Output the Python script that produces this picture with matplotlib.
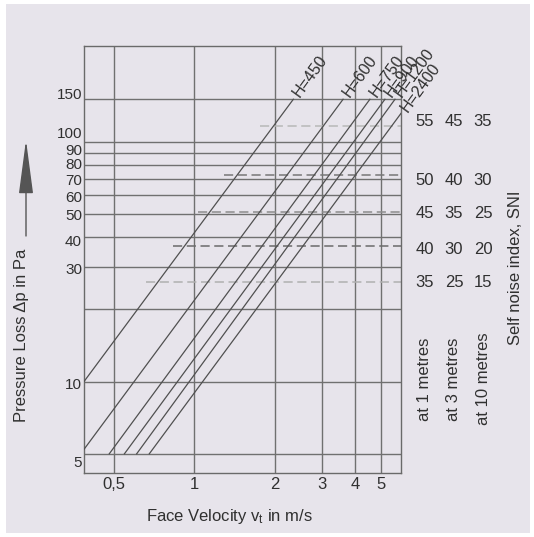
import matplotlib
matplotlib.use("Agg")
import matplotlib.pyplot as plt
from matplotlib.patches import Rectangle
from matplotlib.transforms import ScaledTranslation

plt.rcParams['font.family'] = ['Liberation Sans', 'DejaVu Sans']

# curves: straight lines in log-log, start and end points
h_labels = ['H=450', 'H=600', 'H=750', 'H=900', 'H=1200', 'H=2400']
v_start = [0.386, 0.386, 0.48, 0.547, 0.608, 0.678]
dp_start = [10, 5.22, 5, 5, 5, 5]
v_end = [2.35, 3.61, 4.55, 5.18, 5.65, 5.95]
dp_end = [150, 150, 150, 150, 150, 131]

# self noise index levels (dashed lines)
sni_dp = [116, 72.3, 51, 36.8, 25.9]
sni_v_start = [1.76, 1.29, 1.03, 0.83, 0.66]
sni_1m = [55, 50, 45, 40, 35]
sni_3m = [45, 40, 35, 30, 25]
sni_10m = [35, 30, 25, 20, 15]
sni_text_dp = [121.6, 68.7, 49.9, 35.6, 25.8]

x_ticks = [0.5, 1, 2, 3, 4, 5]
x_ticklabels = ['0,5', '1', '2', '3', '4', '5']
y_grid = [5, 10, 20, 30, 40, 50, 60, 70, 80, 90, 100, 150]
y_ticks = [5, 10, 30, 40, 50, 60, 70, 80, 90, 100, 150]
y_ticklabels = ['5', '10', '30', '40', '50', '60', '70', '80', '90', '100', '150']
y_label_shift = [9, 3.5, 3, 4.5, 2.5, 3, 2.5, 0.5, -2, -7.5, -4.2]  # px down

bg = '#e7e4eb'
txt = '#303030'
grid_c = '#707070'
fs = 12

fig = plt.figure(figsize=(5.34, 5.37), dpi=100)
fig.patch.set_facecolor('white')
fig.add_artist(Rectangle((6 / 534, 4 / 537), 524 / 534, 529 / 537,
                         transform=fig.transFigure, facecolor=bg, edgecolor='none', zorder=-10))

ax = fig.add_axes([84 / 534, 64 / 537, 317 / 534, 427 / 537])
ax.set_facecolor(bg)
ax.set_xscale('log')
ax.set_yscale('log')
ax.set_xlim(0.386, 5.95)
ax.set_ylim(4.16, 250)

for x in x_ticks:
    ax.axvline(x, color=grid_c, lw=1.0, zorder=1)
for y in y_grid:
    ax.axhline(y, color=grid_c, lw=1.0, zorder=1)

# dashed SNI lines
dash_colors = ['#b8b8b8', '#777777', '#8c8c8c', '#6a6a6a', '#b0b0b0']
for d, vs, c in zip(sni_dp, sni_v_start, dash_colors):
    ax.plot([vs, 5.95], [d, d], color=c, lw=1.1, dashes=(6, 3), zorder=2)

# H lines
for lab, x0, y0, x1, y1 in zip(h_labels, v_start, dp_start, v_end, dp_end):
    ax.plot([x0, x1], [y0, y1], color='#505050', lw=0.9, zorder=3)
    ax.annotate(lab, xy=(x1, y1), xytext=(2, 2.5), textcoords='offset points',
                rotation=54, rotation_mode='anchor', ha='left', va='center',
                fontsize=11.5, color=txt, annotation_clip=False)

for s in ax.spines.values():
    s.set_color('#6a6a6a')
    s.set_linewidth(1.0)

ax.minorticks_off()
ax.set_xticks(x_ticks)
ax.set_xticklabels(x_ticklabels)
ax.set_yticks([])
ax.tick_params(axis='x', length=0, pad=3, labelsize=fs, labelcolor=txt)

ytr = ax.get_yaxis_transform()
for val, lab, sh in zip(y_ticks, y_ticklabels, y_label_shift):
    ax.text(-0.006, val, lab, ha='right', va='center', fontsize=11, color=txt,
            transform=ytr + ScaledTranslation(0, -sh / 100, fig.dpi_scale_trans))

# SNI columns
col_x = [1.0757, 1.167, 1.2587]
for col, vals in zip(col_x, [sni_1m, sni_3m, sni_10m]):
    for d, v in zip(sni_text_dp, vals):
        ax.text(col, d, str(v), ha='center', va='center', fontsize=fs,
                color=txt, transform=ytr, clip_on=False)
for col, lab in zip(col_x, ['at 1 metres', 'at 3 metres', 'at 10 metres']):
    ax.text(col, 0.22, lab, rotation=90, ha='center', va='center', fontsize=fs,
            color=txt, transform=ax.transAxes, clip_on=False)
ax.text(1.36, 0.48, 'Self noise index, SNI', rotation=90, ha='center', va='center',
        fontsize=fs, color=txt, transform=ax.transAxes, clip_on=False)

# axis titles
fig.text(229 / 534, 1 - 517 / 537, r'Face Velocity $\mathregular{v_t}$ in m/s',
         ha='center', va='center', fontsize=fs, color=txt)
fig.text(22 / 534, 1 - 335 / 537, 'Pressure Loss Δp in Pa', rotation=90,
         ha='center', va='center', fontsize=fs, color=txt)
ax.annotate('', xy=(26, 537 - 140), xytext=(26, 537 - 236), xycoords='figure pixels',
            textcoords='figure pixels',
            arrowprops=dict(arrowstyle='-|>,head_length=3.4,head_width=0.45',
                            mutation_scale=10, color='#555555', lw=1,
                            shrinkA=0, shrinkB=0))

fig.savefig('out.png', dpi=100, facecolor=fig.get_facecolor())
